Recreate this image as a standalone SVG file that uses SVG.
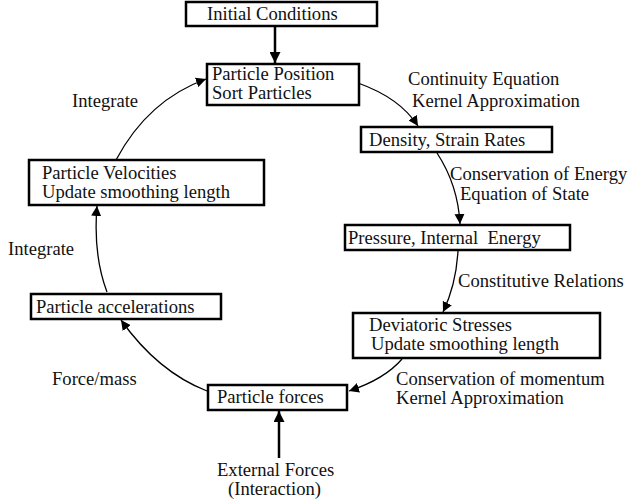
<svg xmlns="http://www.w3.org/2000/svg" width="630" height="504" viewBox="0 0 630 504">
<style>
.box{fill:#fff;stroke:#000;stroke-width:2.5}
.t{font-family:"Liberation Serif","Times New Roman",serif;font-size:18.6px;fill:#111;white-space:pre}
.c{fill:none;stroke:#000;stroke-width:1.3}
.thick{fill:none;stroke:#000;stroke-width:2.5}
</style>
<defs>
<marker id="ah" viewBox="0 0 10 10" refX="10" refY="5" markerWidth="10" markerHeight="10" markerUnits="userSpaceOnUse" orient="auto">
<path d="M0,0 L10,5 L0,10 Z" fill="#000"/>
</marker>
<marker id="ahb" viewBox="0 0 10 10" refX="10" refY="5" markerWidth="14" markerHeight="11" markerUnits="userSpaceOnUse" orient="auto">
<path d="M0,0 L10,5 L0,10 Z" fill="#000"/>
</marker>
</defs>
<rect width="630" height="504" fill="#fff"/>
<g id="connectors">
<path class="thick" d="M275 26 L275 63" marker-end="url(#ahb)"/>
<path class="thick" d="M279 458 L279 411" marker-end="url(#ahb)"/>
<path class="c" d="M358 83 Q400 98 418 126" marker-end="url(#ah)"/>
<path class="c" d="M437 153 Q458 185 460 224" marker-end="url(#ah)"/>
<path class="c" d="M458 251 Q456 285 443 312" marker-end="url(#ah)"/>
<path class="c" d="M402 359 Q385 379 349 391" marker-end="url(#ah)"/>
<path class="c" d="M207 391 Q158 372 121 320" marker-end="url(#ah)"/>
<path class="c" d="M107 292 Q93 255 97 206" marker-end="url(#ah)"/>
<path class="c" d="M116 160 Q148 100 206 79" marker-end="url(#ah)"/>
</g>
<g id="labels">
<text class="t" x="408" y="85">Continuity Equation</text>
<text class="t" x="412" y="107">Kernel Approximation</text>
<text class="t" x="450" y="180">Conservation of Energy</text>
<text class="t" x="460" y="200">Equation of State</text>
<text class="t" x="458" y="287">Constitutive Relations</text>
<text class="t" x="396" y="385">Conservation of momentum</text>
<text class="t" x="396" y="404">Kernel Approximation</text>
<text class="t" x="217" y="476">External Forces</text>
<text class="t" x="228" y="495">(Interaction)</text>
<text class="t" x="72" y="107">Integrate</text>
<text class="t" x="8" y="255">Integrate</text>
<text class="t" x="52" y="385">Force/mass</text>
</g>
<g id="initial"><rect class="box" x="186" y="2" width="191" height="24" stroke-width="3"/><text class="t" x="207" y="20">Initial Conditions</text></g>
<g id="position"><rect class="box" x="207" y="64" width="152" height="41"/><text class="t" x="212" y="79.5">Particle Position</text><text class="t" x="212" y="98.5">Sort Particles</text></g>
<g id="density"><rect class="box" x="361" y="127" width="191" height="25"/><text class="t" x="369" y="146">Density, Strain Rates</text></g>
<g id="pressure"><rect class="box" x="345" y="225" width="225" height="25"/><text class="t" x="348" y="244" xml:space="preserve">Pressure, Internal  Energy</text></g>
<g id="deviatoric"><rect class="box" x="353" y="313" width="247" height="45"/><text class="t" x="369" y="331">Deviatoric Stresses</text><text class="t" x="371" y="350">Update smoothing length</text></g>
<g id="forces"><rect class="box" x="208" y="385" width="139" height="25"/><text class="t" x="217" y="403">Particle forces</text></g>
<g id="accelerations"><rect class="box" x="31" y="294" width="190" height="25"/><text class="t" x="36" y="313">Particle accelerations</text></g>
<g id="velocities"><rect class="box" x="29" y="160" width="235" height="45"/><text class="t" x="42" y="179">Particle Velocities</text><text class="t" x="42" y="198">Update smoothing length</text></g>
</svg>
